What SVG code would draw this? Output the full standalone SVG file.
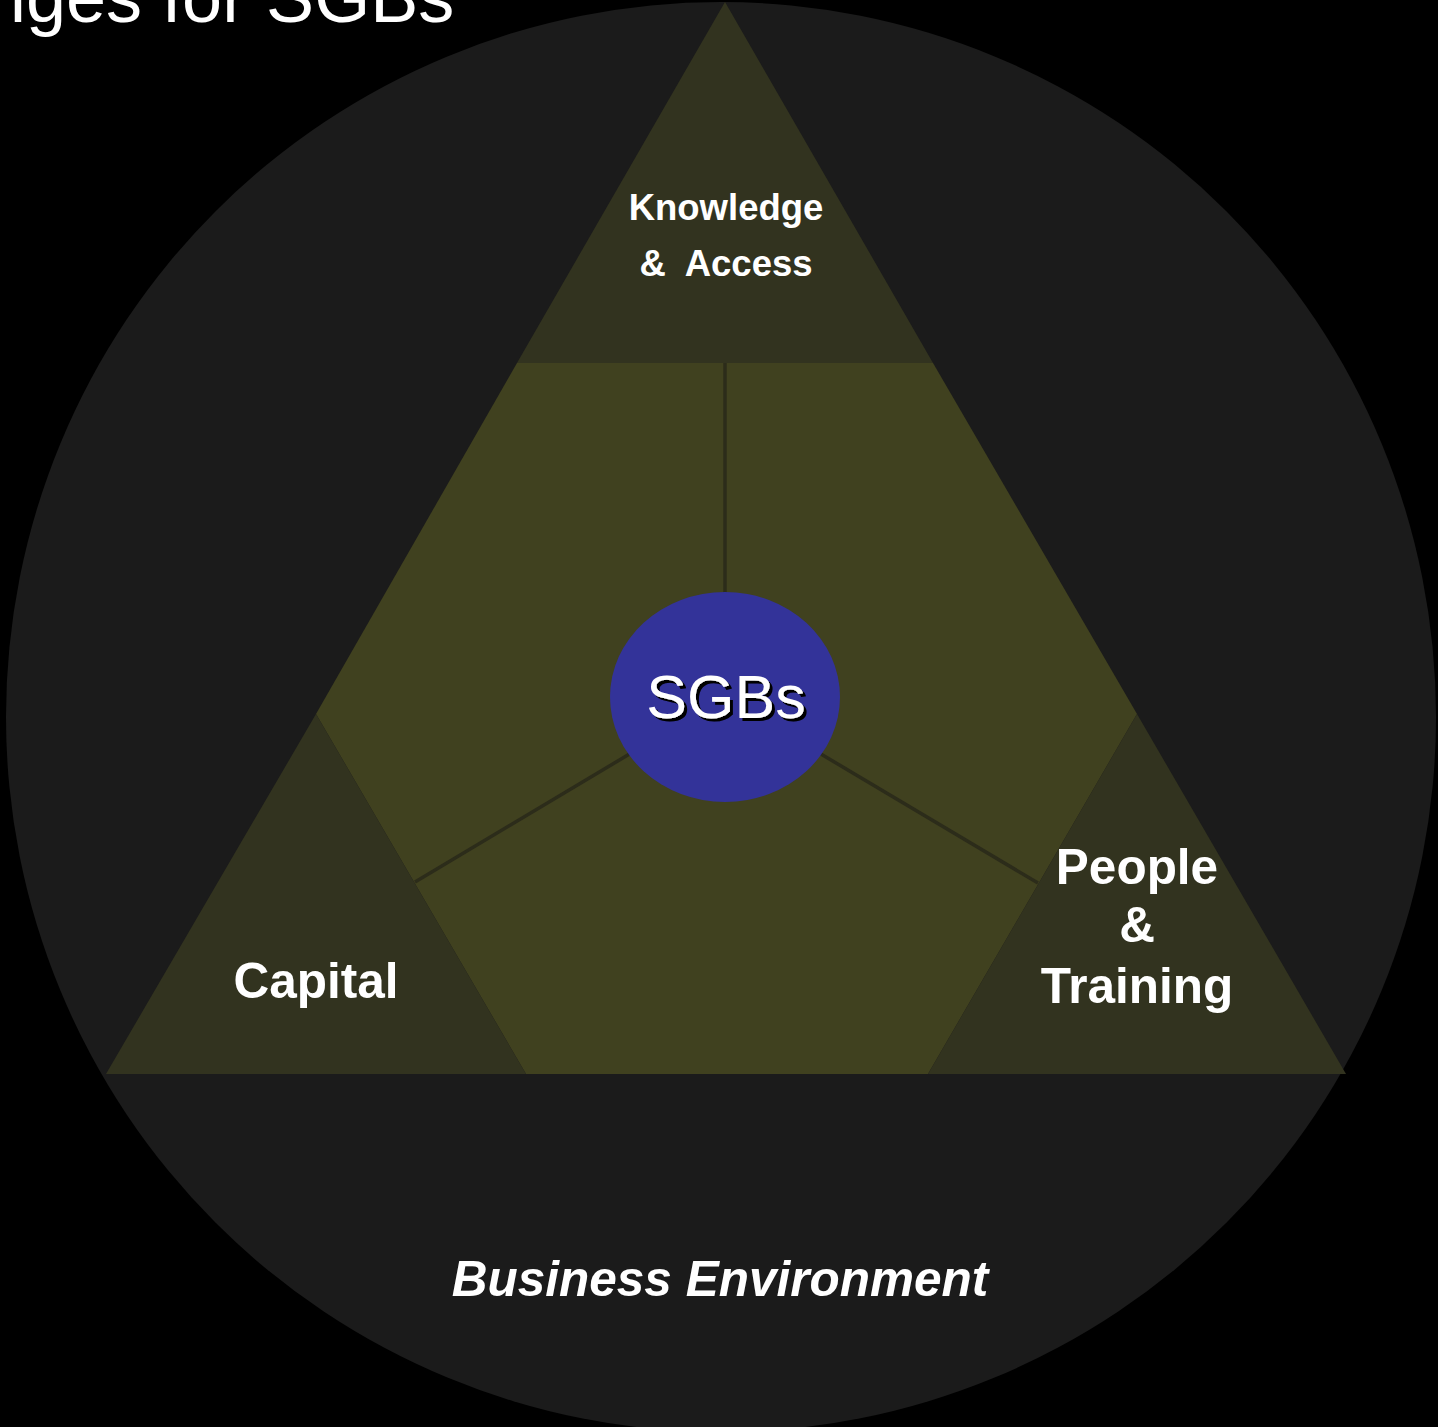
<svg xmlns="http://www.w3.org/2000/svg" width="1438" height="1427" viewBox="0 0 1438 1427">
  <style>
    .lbl { font-family: "Liberation Sans", Arial, sans-serif; fill: #ffffff; font-weight: bold; text-anchor: middle; }
    .corner { fill: #32331f; }
    .divider { stroke: #2c2c1a; stroke-width: 3.5; fill: none; }
  </style>
  <defs>
    <filter id="shadow" x="-10%" y="-10%" width="130%" height="130%">
      <feDropShadow dx="3" dy="3" stdDeviation="0" flood-color="#000000" flood-opacity="1"/>
    </filter>
  </defs>
  <rect x="0" y="0" width="1438" height="1427" fill="#000000"/>
  <g id="business-environment">
    <circle cx="721" cy="717" r="715" fill="#1b1b1b"/>
    <text class="lbl" x="720" y="1296" font-size="49.5" font-style="italic">Business Environment</text>
  </g>
  <g id="title">
    <text x="10" y="22" font-family="Liberation Sans, Arial, sans-serif" font-size="72" fill="#ffffff">iges for SGBs</text>
  </g>
  <g id="core">
    <polygon points="517,363 933,363 1137,714 928,1074 526,1074 316,714" fill="#40411f"/>
  </g>
  <g id="knowledge-access">
    <polygon class="corner" points="725,2 933,363 517,363"/>
    <text class="lbl" x="726" y="220" font-size="36.5">Knowledge</text>
    <text class="lbl" x="726" y="276" font-size="36.5" xml:space="preserve">&amp;  Access</text>
  </g>
  <g id="capital">
    <polygon class="corner" points="316,714 526,1074 106,1074"/>
    <text class="lbl" x="316" y="998" font-size="49.5">Capital</text>
  </g>
  <g id="people-training">
    <polygon class="corner" points="1137,714 1346,1074 928,1074"/>
    <text class="lbl" x="1137" y="884" font-size="49.5">People</text>
    <text class="lbl" x="1137" y="942" font-size="49.5">&amp;</text>
    <text class="lbl" x="1137" y="1003" font-size="49.5">Training</text>
  </g>
  <g id="connectors">
    <line class="divider" x1="725" y1="363" x2="725" y2="697"/>
    <line class="divider" x1="725" y1="697" x2="415" y2="882"/>
    <line class="divider" x1="725" y1="697" x2="1038" y2="883"/>
  </g>
  <g id="sgbs">
    <ellipse cx="725" cy="697" rx="115" ry="105" fill="#333399"/>
    <text x="726" y="718" font-family="Liberation Sans, Arial, sans-serif" font-size="61" fill="#ffffff" text-anchor="middle" filter="url(#shadow)">SGBs</text>
  </g>
</svg>
